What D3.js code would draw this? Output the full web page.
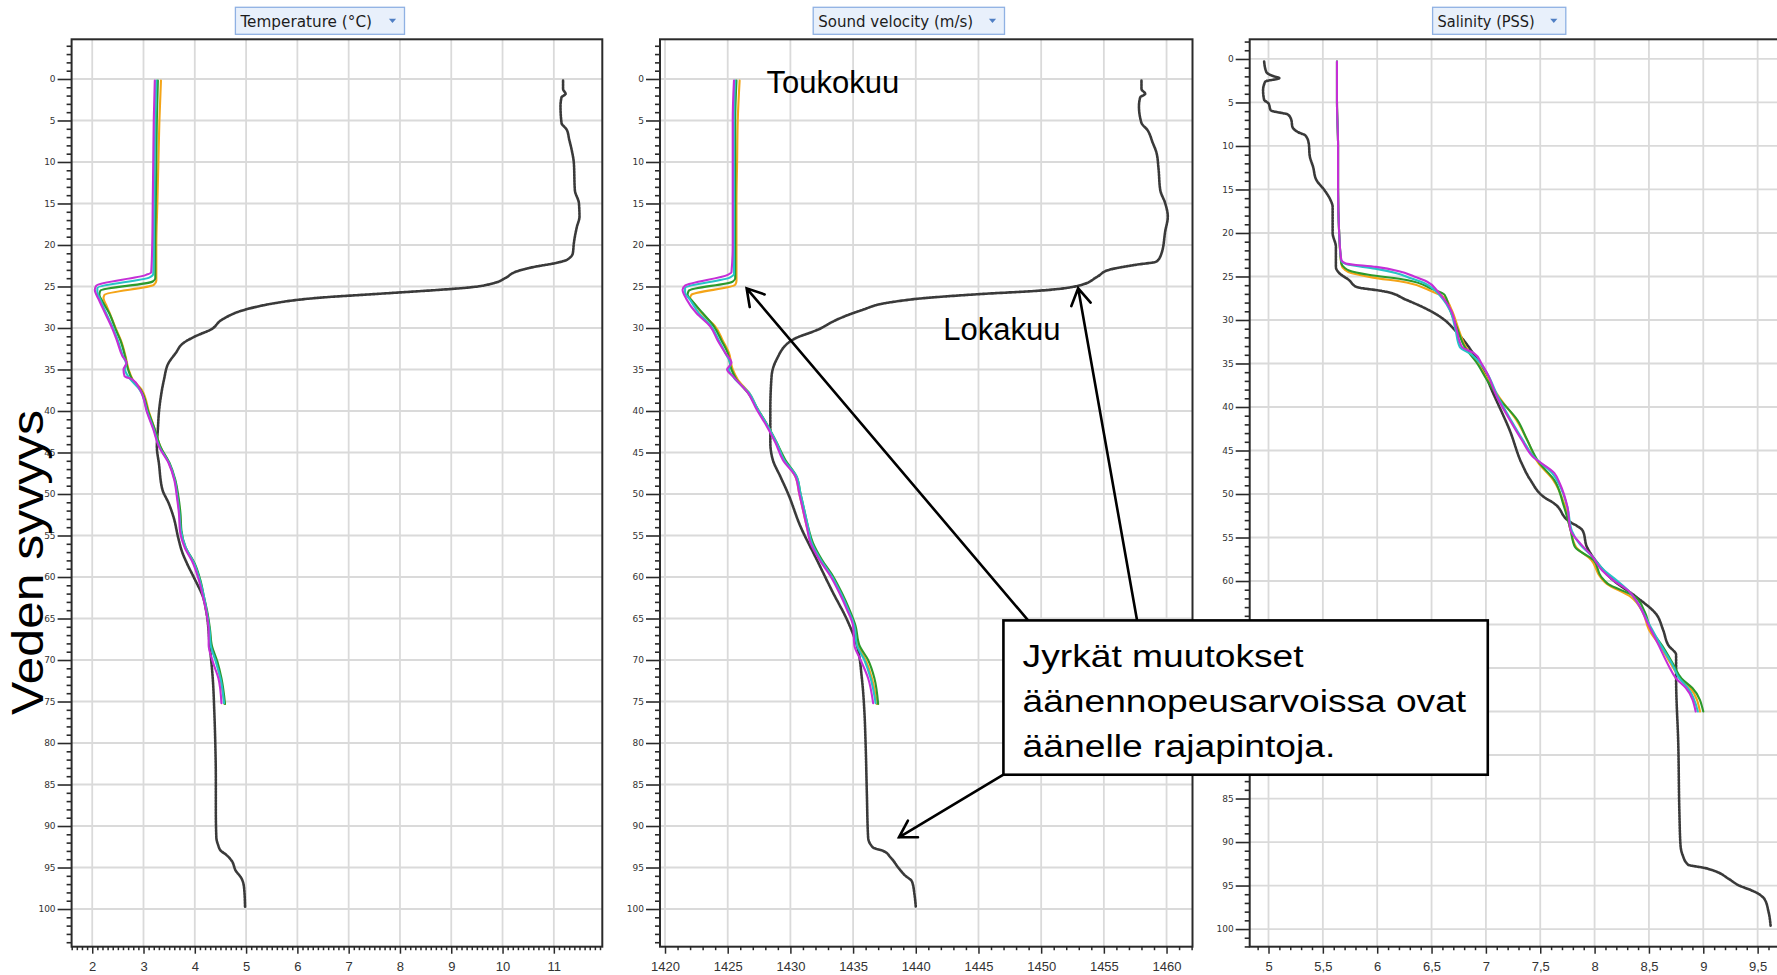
<!DOCTYPE html>
<html><head><meta charset="utf-8">
<script src="https://cdn.jsdelivr.net/npm/d3@7"></script>
<style>
html,body{margin:0;padding:0;background:#fff;}
svg{display:block;}
</style></head><body>
<svg id="chart" width="1777" height="975"></svg>
<script>
// ---- tick labels ----
const depthTicks = [0,5,10,15,20,25,30,35,40,45,50,55,60,65,70,75,80,85,90,95,100];
const tempTicks = [2,3,4,5,6,7,8,9,10,11];
const soundTicks = [1420,1425,1430,1435,1440,1445,1450,1455,1460];
const salinityTicks = [5,5.5,6,6.5,7,7.5,8,8.5,9,9.5];

// ---- temperature profiles (depth m, °C) ----
const tempOctDepth = [0.2,1.2,1.8,2.2,3.3,5.3,6.1,7.3,8.9,10.1,13.4,15.0,16.6,17.8,19.8,21.0,21.8,22.2,22.6,23.2,24.0,24.6,25.1,25.4,25.7,26.0,26.3,26.6,27.0,27.8,29.0,30.2,31.0,31.8,33.0,34.2,36.2,38.2,40.2,42.2,44.3,46.3,49.5,51.1,53.1,55.1,57.1,58.4,60.4,62.4,64.4,68.2,72.2,76.2,80.2,84.2,88.2,91.4,92.2,93.0,93.4,94.2,95.4,96.2,97.4,99.8];
const tempOct = [11.18,11.18,11.23,11.15,11.13,11.15,11.25,11.30,11.36,11.39,11.41,11.49,11.50,11.45,11.39,11.37,11.25,11.02,10.65,10.27,10.05,9.83,9.38,8.78,8.04,7.29,6.54,6.02,5.57,4.98,4.53,4.31,4.01,3.78,3.63,3.49,3.40,3.34,3.30,3.28,3.26,3.30,3.37,3.49,3.60,3.67,3.76,3.85,4.01,4.16,4.23,4.29,4.35,4.38,4.40,4.41,4.41,4.42,4.45,4.51,4.60,4.72,4.80,4.90,4.96,4.98];
const tempMagDepth = [0.2,5,10,15,20,23.3,23.6,24.9,25.4,26.6,28.2,30.2,31.5,33.4,34.2,35.0,35.8,36.2,37.4,40.2,42.2,44.3,46.3,48.3,50.3,52.3,54.4,56.4,58.4,60.4,62.4,64.4,66.5,68.2,70.2,72.2,75.2];
const tempMag = [3.22,3.20,3.19,3.18,3.17,3.15,3.05,2.08,2.05,2.13,2.25,2.40,2.48,2.59,2.67,2.61,2.63,2.78,2.93,3.07,3.19,3.30,3.49,3.60,3.65,3.69,3.71,3.80,3.97,4.08,4.16,4.23,4.27,4.27,4.35,4.46,4.52];
const tempCyanDepth = [0.2,5,10,15,20,23.5,23.9,25.2,25.7,26.6,28.2,30.2,31.5,33.4,34.3,35.0,36.0,37.4,40.2,42.2,44.3,46.3,48.3,50.3,52.3,54.4,56.4,58.4,60.4,62.4,64.4,66.5,68.2,70.2,72.2,75.2];
const tempCyan = [3.25,3.23,3.22,3.21,3.20,3.19,3.12,2.10,2.10,2.16,2.27,2.42,2.50,2.60,2.66,2.64,2.72,2.92,3.08,3.20,3.31,3.50,3.61,3.66,3.70,3.73,3.82,3.99,4.10,4.18,4.24,4.29,4.31,4.41,4.50,4.57];
const tempGreenDepth = [0.2,5,10,15,20,24.0,24.4,25.5,26.0,26.8,28.2,30.2,31.5,33.4,35.0,36.2,37.4,40.2,42.2,44.3,46.3,48.3,50.3,52.3,54.4,56.4,58.4,60.4,62.4,64.4,66.5,68.2,70.2,72.2,75.3];
const tempGreen = [3.28,3.26,3.25,3.24,3.23,3.23,3.18,2.16,2.14,2.20,2.33,2.46,2.55,2.64,2.70,2.78,2.94,3.10,3.22,3.33,3.51,3.62,3.68,3.72,3.74,3.82,4.00,4.11,4.18,4.25,4.30,4.33,4.44,4.52,4.59];
const tempOrangeDepth = [0.2,5,10,15,20,24.3,24.8,26.0,26.4,27.2,28.5,30.2,31.5,33.4,35.0,36.2,37.4,40.2,42.2,44.3,46.3,48.3,50.3,52.3,54.4,56.4,58.4,60.4,62.4,64.4,66.5,68.2,70.2,72.2,75.3];
const tempOrange = [3.34,3.31,3.29,3.27,3.25,3.25,3.20,2.24,2.22,2.27,2.36,2.47,2.56,2.65,2.71,2.79,2.96,3.11,3.22,3.33,3.50,3.61,3.67,3.71,3.73,3.81,3.99,4.10,4.17,4.24,4.29,4.32,4.42,4.50,4.58];

// ---- sound velocity profiles (depth m, m/s) ----
const soundOctDepth = [0.2,1.2,1.8,2.2,3.3,5.3,6.1,7.7,8.9,10.8,13.4,15.0,16.6,18.3,21.0,22.0,22.4,23.0,23.8,24.9,25.5,25.9,26.4,26.9,27.9,29.0,30.2,31.4,33.8,35.8,39.8,43.8,45.9,47.9,49.9,53.9,57.9,61.9,65.1,68.2,72.2,76.2,80.2,86.2,91.4,92.6,93.0,93.8,95.0,95.9,96.7,98.3,99.7];
const soundOct = [1458.0,1458.0,1458.3,1457.9,1457.8,1458.0,1458.45,1458.9,1459.2,1459.36,1459.5,1459.9,1460.1,1459.9,1459.6,1459.2,1457.5,1455.4,1454.5,1453.0,1449.9,1445.3,1440.7,1438.0,1435.6,1433.7,1432.2,1430.2,1428.9,1428.5,1428.4,1428.4,1428.6,1429.2,1429.8,1430.8,1432.1,1433.4,1434.5,1435.3,1435.7,1435.9,1436.0,1436.1,1436.2,1436.6,1437.4,1438.0,1438.6,1439.1,1439.7,1439.9,1440.0];
const soundMagDepth = [0.2,5,10,15,20,23.3,23.6,24.9,25.4,26.5,28.2,29.8,31.5,33.0,34.2,35.0,35.8,37.8,39.8,41.8,43.8,45.9,47.9,49.9,51.9,53.9,55.9,57.9,59.9,61.9,63.9,65.9,68.2,70.0,72.2,75.2];
const soundMag = [1425.5,1425.4,1425.4,1425.4,1425.4,1425.3,1425.0,1421.6,1421.4,1421.7,1422.5,1423.6,1424.2,1424.8,1425.3,1424.95,1425.4,1426.6,1427.3,1428.1,1428.8,1429.4,1430.4,1430.7,1431.0,1431.3,1431.6,1432.3,1433.2,1433.9,1434.5,1435.0,1435.1,1435.6,1436.2,1436.6];
const soundCyanDepth = [0.2,5,10,15,20,23.5,23.9,25.2,25.7,26.6,28.2,29.8,31.5,33.0,34.3,35.0,36.0,37.8,39.8,41.8,43.8,45.9,47.9,49.9,51.9,53.9,55.9,57.9,59.9,61.9,63.9,65.9,68.2,70.0,72.2,75.2];
const soundCyan = [1425.6,1425.5,1425.5,1425.5,1425.5,1425.5,1425.2,1421.6,1421.6,1422.0,1422.7,1423.7,1424.3,1424.8,1425.2,1425.1,1425.5,1426.7,1427.4,1428.2,1428.9,1429.5,1430.5,1430.8,1431.1,1431.4,1431.7,1432.4,1433.3,1434.0,1434.6,1435.1,1435.3,1435.9,1436.4,1436.8];
const soundGreenDepth = [0.2,5,10,15,20,24.0,24.4,25.5,26.0,26.8,28.2,29.8,31.5,33.0,35.0,36.2,37.8,39.8,41.8,43.8,45.9,47.9,49.9,51.9,53.9,55.9,57.9,59.9,61.9,63.9,65.9,68.2,70.0,72.2,75.3];
const soundGreen = [1425.7,1425.6,1425.6,1425.6,1425.6,1425.6,1425.4,1421.9,1421.8,1422.2,1423.0,1423.9,1424.5,1425.0,1425.3,1425.7,1426.6,1427.4,1428.2,1428.9,1429.6,1430.5,1430.8,1431.1,1431.4,1431.8,1432.5,1433.4,1434.1,1434.7,1435.2,1435.5,1436.2,1436.7,1437.0];
const soundOrangeDepth = [0.2,5,10,15,20,24.3,24.8,26.0,26.4,27.2,28.5,29.8,31.5,33.0,35.0,36.2,37.8,39.8,41.8,43.8,45.9,47.9,49.9,51.9,53.9,55.9,57.9,59.9,61.9,63.9,65.9,68.2,70.0,72.2,75.3];
const soundOrange = [1425.95,1425.8,1425.75,1425.7,1425.7,1425.7,1425.6,1422.1,1422.0,1422.4,1423.1,1424.0,1424.6,1425.1,1425.4,1425.8,1426.7,1427.4,1428.2,1428.9,1429.5,1430.4,1430.7,1431.0,1431.3,1431.7,1432.4,1433.3,1434.0,1434.6,1435.1,1435.4,1436.0,1436.5,1436.9];

// ---- salinity profiles (depth m, PSS) ----
const salOctDepth = [0.3,1.5,2.0,2.2,2.6,3.6,4.7,5.1,5.9,6.4,7.0,7.8,8.4,8.8,9.7,11.2,12.4,13.9,15.0,16.2,17.0,20.0,21.6,23.9,24.6,25.4,26.2,26.7,27.7,28.9,30.0,31.1,35.0,38.8,42.7,46.5,48.4,50.4,51.1,53.0,54.2,56.1,58.0,59.9,61.8,63.7,65.6,67.4,68.5,71.2,78.8,86.5,90.3,91.5,92.6,93.0,93.4,94.2,95.0,95.7,96.5,98.0,99.7];
const salOct = [4.96,4.98,5.05,5.10,4.97,4.95,4.96,5.00,5.02,5.18,5.21,5.22,5.27,5.34,5.37,5.38,5.41,5.44,5.51,5.57,5.59,5.59,5.62,5.62,5.65,5.74,5.81,6.06,6.27,6.48,6.62,6.71,6.94,7.08,7.22,7.33,7.41,7.54,7.63,7.75,7.89,7.93,8.03,8.17,8.38,8.56,8.63,8.68,8.75,8.75,8.77,8.78,8.79,8.81,8.86,9.02,9.12,9.23,9.33,9.47,9.56,9.60,9.62];
const salMagDepth = [0.3,5,10,15,20,23.1,23.5,23.9,24.4,25.0,25.6,26.6,27.7,28.9,31.1,33.1,33.8,35.0,36.1,38.8,41.5,43.8,45.7,47.6,48.8,51.5,54.2,55.7,57.2,58.8,59.9,61.1,62.6,64.9,67.4,69.7,71.2,72.3,75.0];
const salMag = [5.63,5.63,5.64,5.64,5.65,5.67,5.71,5.99,6.20,6.34,6.46,6.55,6.62,6.68,6.73,6.78,6.89,6.96,7.01,7.10,7.22,7.33,7.43,7.63,7.68,7.75,7.78,7.87,7.98,8.07,8.17,8.31,8.40,8.49,8.59,8.68,8.75,8.84,8.93];
const salCyanDepth = [0.3,5,10,15,20,23.2,23.6,24.1,24.6,25.2,25.8,26.7,27.7,28.9,31.1,33.1,34.0,35.0,36.1,38.8,41.5,43.8,45.7,47.6,48.8,51.5,54.2,55.7,57.2,58.8,59.9,61.1,62.6,64.9,67.4,69.7,71.2,72.3,75.0];
const salCyan = [5.63,5.63,5.64,5.64,5.65,5.67,5.72,5.98,6.17,6.31,6.44,6.54,6.61,6.67,6.72,6.76,6.87,6.95,7.01,7.11,7.23,7.34,7.44,7.61,7.67,7.75,7.79,7.86,7.98,8.09,8.20,8.31,8.40,8.50,8.61,8.72,8.78,8.86,8.95];
const salGreenDepth = [0.3,5,10,15,20,23.5,24.0,24.3,24.8,25.4,26.4,27.1,28.5,31.1,33.0,35.0,36.9,39.0,41.5,43.8,46.4,48.4,51.1,54.2,56.1,57.6,59.5,60.3,61.8,63.5,65.6,67.4,69.7,71.2,72.3,75.0];
const salGreen = [5.63,5.63,5.64,5.64,5.65,5.67,5.70,5.74,5.92,6.27,6.50,6.62,6.66,6.74,6.80,6.92,7.01,7.12,7.29,7.38,7.49,7.63,7.71,7.78,7.82,7.99,8.06,8.12,8.37,8.46,8.52,8.62,8.73,8.80,8.90,9.00];
const salOrangeDepth = [0.3,5,10,15,20,23.6,24.2,24.6,25.1,25.7,26.7,27.4,28.7,31.1,33.0,35.0,36.9,39.0,41.5,43.8,46.4,48.4,51.1,54.2,56.1,57.6,59.5,60.3,61.8,63.5,65.6,67.4,69.7,71.2,72.3,75.0];
const salOrange = [5.63,5.63,5.64,5.64,5.65,5.67,5.70,5.76,5.95,6.27,6.50,6.62,6.68,6.75,6.81,6.93,7.02,7.13,7.28,7.38,7.48,7.62,7.72,7.78,7.83,7.97,8.05,8.11,8.33,8.44,8.50,8.60,8.71,8.79,8.88,8.97];

// ---- annotations, placed in sound-velocity coordinates ----
const monthLabels = [
  {text:'Toukokuu', v:1428.09, d:1.72},
  {text:'Lokakuu',  v:1442.19, d:31.45}
];
const noteBox = {v0:1446.99, d0:65.23, v1:1485.62, d1:83.82};
const noteLines = [
  {text:'Jyrkät muutokset', v:1448.52, d:70.8, len:281},
  {text:'äänennopeusarvoissa ovat', v:1448.52, d:76.23, len:443.5},
  {text:'äänelle rajapintoja.', v:1448.52, d:81.65, len:312.7}
];
const noteArrows = [
  {tv:1448.96, td:65.23, hv:1426.51, hd:25.22},
  {tv:1457.65, td:65.23, hv:1452.95, hd:25.22},
  {tv:1446.99, td:83.82, hv:1438.66, hd:91.36}
];

const COLORS = {oct:'#3a3a3a', orange:'#f4a417', green:'#2b9a2b', cyan:'#27c3c6', magenta:'#c52fd6'};

function zipSeries(depth, vals){ return depth.map((d,i)=>({d:d, v:vals[i]})); }

const panels = [
  {title:'Temperature (°C)', titleLen:131.6, boxX:235.4, boxW:169.1,
   left:71.6, right:602.3, xDomain:[1.598,11.945], yDomain:[-4.78,104.54],
   ticks:tempTicks, minor:0.1, fmt:d=>String(d),
   series:[
     {c:COLORS.oct, data:zipSeries(tempOctDepth,tempOct), oct:true},
     {c:COLORS.orange, data:zipSeries(tempOrangeDepth,tempOrange)},
     {c:COLORS.green, data:zipSeries(tempGreenDepth,tempGreen)},
     {c:COLORS.cyan, data:zipSeries(tempCyanDepth,tempCyan)},
     {c:COLORS.magenta, data:zipSeries(tempMagDepth,tempMag)}
   ]},
  {title:'Sound velocity (m/s)', titleLen:155, boxX:813.2, boxW:191.3,
   left:660, right:1192.5, xDomain:[1419.6,1462.07], yDomain:[-4.78,104.54],
   ticks:soundTicks, minor:1, fmt:d=>String(d),
   series:[
     {c:COLORS.oct, data:zipSeries(soundOctDepth,soundOct), oct:true},
     {c:COLORS.orange, data:zipSeries(soundOrangeDepth,soundOrange)},
     {c:COLORS.green, data:zipSeries(soundGreenDepth,soundGreen)},
     {c:COLORS.cyan, data:zipSeries(soundCyanDepth,soundCyan)},
     {c:COLORS.magenta, data:zipSeries(soundMagDepth,soundMag)}
   ]},
  {title:'Salinity (PSS)', titleLen:97.2, boxX:1432.6, boxW:133.2,
   left:1249.7, right:1781, xDomain:[4.827,9.715], yDomain:[-2.26,102.03],
   ticks:salinityTicks, minor:0.1, fmt:d=>String(d).replace('.', ','),
   series:[
     {c:COLORS.oct, data:zipSeries(salOctDepth,salOct), oct:true},
     {c:COLORS.orange, data:zipSeries(salOrangeDepth,salOrange)},
     {c:COLORS.green, data:zipSeries(salGreenDepth,salGreen)},
     {c:COLORS.cyan, data:zipSeries(salCyanDepth,salCyan)},
     {c:COLORS.magenta, data:zipSeries(salMagDepth,salMag)}
   ]}
];

const TOP = 39.3, BOTTOM = 946.7;
const svg = d3.select('#chart');
const defs = svg.append('defs');

panels.forEach((p, pi) => {
  const x = d3.scaleLinear().domain(p.xDomain).range([p.left, p.right]);
  const y = d3.scaleLinear().domain(p.yDomain).range([TOP, BOTTOM]);
  p.x = x; p.y = y;
  const g = svg.append('g');

  // header selector box
  const hb = g.append('g');
  hb.append('rect').attr('x', p.boxX).attr('y', 7.3).attr('width', p.boxW).attr('height', 27)
    .attr('fill', '#e8f0fb').attr('stroke', '#8fb1e3').attr('stroke-width', 1.3);
  hb.append('text').attr('x', p.boxX + 5).attr('y', 27)
    .attr('font-family', 'DejaVu Sans, sans-serif').attr('font-size', 16.5)
    .attr('textLength', p.titleLen).attr('lengthAdjust', 'spacingAndGlyphs')
    .attr('fill', '#1c1c1c').text(p.title);
  const tx = p.boxX + p.boxW - 12, ty = 20.7;
  hb.append('path').attr('d', `M${tx-3.6},${ty-2}L${tx+3.6},${ty-2}L${tx},${ty+2.4}Z`).attr('fill', '#4f7fc4');

  // grid
  const grid = g.append('g');
  grid.selectAll('line.v').data(p.ticks).join('line')
    .attr('x1', d=>x(d)).attr('x2', d=>x(d)).attr('y1', TOP).attr('y2', BOTTOM)
    .attr('stroke', '#dadada').attr('stroke-width', 1.8);
  grid.selectAll('line.h').data(depthTicks.filter(d=>y(d)>TOP && y(d)<BOTTOM)).join('line')
    .attr('class','h')
    .attr('x1', p.left).attr('x2', p.right).attr('y1', d=>y(d)).attr('y2', d=>y(d))
    .attr('stroke', '#dadada').attr('stroke-width', 1.8);

  // profiles
  const cid = 'clip' + pi;
  defs.append('clipPath').attr('id', cid).append('rect')
    .attr('x', p.left).attr('y', TOP).attr('width', p.right - p.left).attr('height', BOTTOM - TOP);
  const line = d3.line().x(d=>x(d.v)).y(d=>y(d.d)).curve(d3.curveMonotoneY);
  const lg = g.append('g').attr('clip-path', `url(#${cid})`);
  p.series.forEach(s => {
    lg.append('path').datum(s.data).attr('d', line).attr('fill', 'none')
      .attr('stroke', s.c).attr('stroke-width', s.oct ? 2.6 : 2.1)
      .attr('stroke-dasharray', s.oct ? '2 1' : null)
      .attr('stroke-linejoin', 'round').attr('stroke-linecap', 'round');
  });

  // frame
  g.append('rect').attr('x', p.left).attr('y', TOP).attr('width', p.right - p.left).attr('height', BOTTOM - TOP)
    .attr('fill', 'none').attr('stroke', '#2a2a2a').attr('stroke-width', 2);

  // depth axis
  const minorDepth = d3.range(Math.ceil(p.yDomain[0]), Math.floor(p.yDomain[1]) + 1).filter(d => d % 5 !== 0);
  const yMinor = g.append('g').attr('transform', `translate(${p.left},0)`)
    .call(d3.axisLeft(y).tickValues(minorDepth).tickSize(5).tickFormat(''));
  const yMajor = g.append('g').attr('transform', `translate(${p.left},0)`)
    .call(d3.axisLeft(y).tickValues(depthTicks).tickSize(14).tickPadding(2));
  [yMinor, yMajor].forEach(a => { a.select('.domain').remove(); a.selectAll('line').attr('stroke', '#2a2a2a').attr('stroke-width', 1.6); });
  yMajor.selectAll('text').attr('font-family', 'DejaVu Sans, sans-serif').attr('font-size', 9).attr('fill', '#333');
  p.yAxisG = yMajor;

  // value axis
  const i0 = Math.ceil(p.xDomain[0] / p.minor - 1e-6), i1 = Math.floor(p.xDomain[1] / p.minor + 1e-6);
  const minorX = d3.range(i0, i1 + 1).map(i => +(i * p.minor).toFixed(4)).filter(v => !p.ticks.some(t => Math.abs(t - v) < 1e-6));
  const xMinor = g.append('g').attr('transform', `translate(0,${BOTTOM})`)
    .call(d3.axisBottom(x).tickValues(minorX).tickSize(3.5).tickFormat(''));
  const xMajor = g.append('g').attr('transform', `translate(0,${BOTTOM})`)
    .call(d3.axisBottom(x).tickValues(p.ticks).tickSize(7).tickPadding(8).tickFormat(p.fmt));
  [xMinor, xMajor].forEach(a => { a.select('.domain').remove(); a.selectAll('line').attr('stroke', '#2a2a2a').attr('stroke-width', 1.5); });
  xMajor.selectAll('text').attr('font-family', 'Liberation Sans Narrow, Arial Narrow, sans-serif').attr('font-size', 13).attr('fill', '#333');
});

// depth title on the left
svg.append('text')
  .attr('transform', 'translate(43,715) rotate(-90)')
  .attr('font-family', 'Liberation Sans, Arial, sans-serif').attr('font-size', 44)
  .attr('textLength', 305).attr('lengthAdjust', 'spacingAndGlyphs')
  .attr('fill', '#000').text('Veden syvyys');

// annotations on the sound velocity panel
const sp = panels[1];
const ax = sp.x, ay = sp.y;
const ann = svg.append('g');
ann.selectAll('text.month').data(monthLabels).join('text').attr('class', 'month')
  .attr('x', d=>ax(d.v)).attr('y', d=>ay(d.d))
  .attr('font-family', 'Liberation Sans, Arial, sans-serif').attr('font-size', 31).attr('fill', '#000')
  .text(d=>d.text);

function arrowPath(a){
  const hx = ax(a.hv), hy = ay(a.hd), tx = ax(a.tv), ty = ay(a.td);
  const ang = Math.atan2(ty - hy, tx - hx), spread = 31 * Math.PI / 180, L = 19;
  const p1 = [hx + L * Math.cos(ang + spread), hy + L * Math.sin(ang + spread)];
  const p2 = [hx + L * Math.cos(ang - spread), hy + L * Math.sin(ang - spread)];
  return `M${tx},${ty}L${hx},${hy}M${p1[0]},${p1[1]}L${hx},${hy}L${p2[0]},${p2[1]}`;
}
ann.selectAll('path.arrow').data(noteArrows).join('path').attr('class', 'arrow')
  .attr('d', arrowPath).attr('fill', 'none').attr('stroke', '#000').attr('stroke-width', 2.6)
  .attr('stroke-linecap', 'round').attr('stroke-linejoin', 'miter');

const bx0 = ax(noteBox.v0), by0 = ay(noteBox.d0), bx1 = ax(noteBox.v1), by1 = ay(noteBox.d1);
ann.append('rect')
  .attr('x', bx0).attr('y', by0).attr('width', bx1 - bx0).attr('height', by1 - by0)
  .attr('fill', '#fff').attr('stroke', '#000').attr('stroke-width', 2.6);
ann.selectAll('text.note').data(noteLines).join('text').attr('class', 'note')
  .attr('x', d=>ax(d.v)).attr('y', d=>ay(d.d))
  .attr('font-family', 'Liberation Sans, Arial, sans-serif').attr('font-size', 31)
  .attr('textLength', d=>d.len).attr('lengthAdjust', 'spacingAndGlyphs')
  .attr('fill', '#000').text(d=>d.text);

// depth labels hidden under the note box are not drawn
panels.forEach(p => {
  p.yAxisG.selectAll('.tick').filter(d => {
    const yy = p.y(d), xx = p.left - 20;
    return yy > by0 - 6 && yy < by1 + 6 && xx > bx0 && xx < bx1;
  }).select('text').remove();
});
</script></body></html>
